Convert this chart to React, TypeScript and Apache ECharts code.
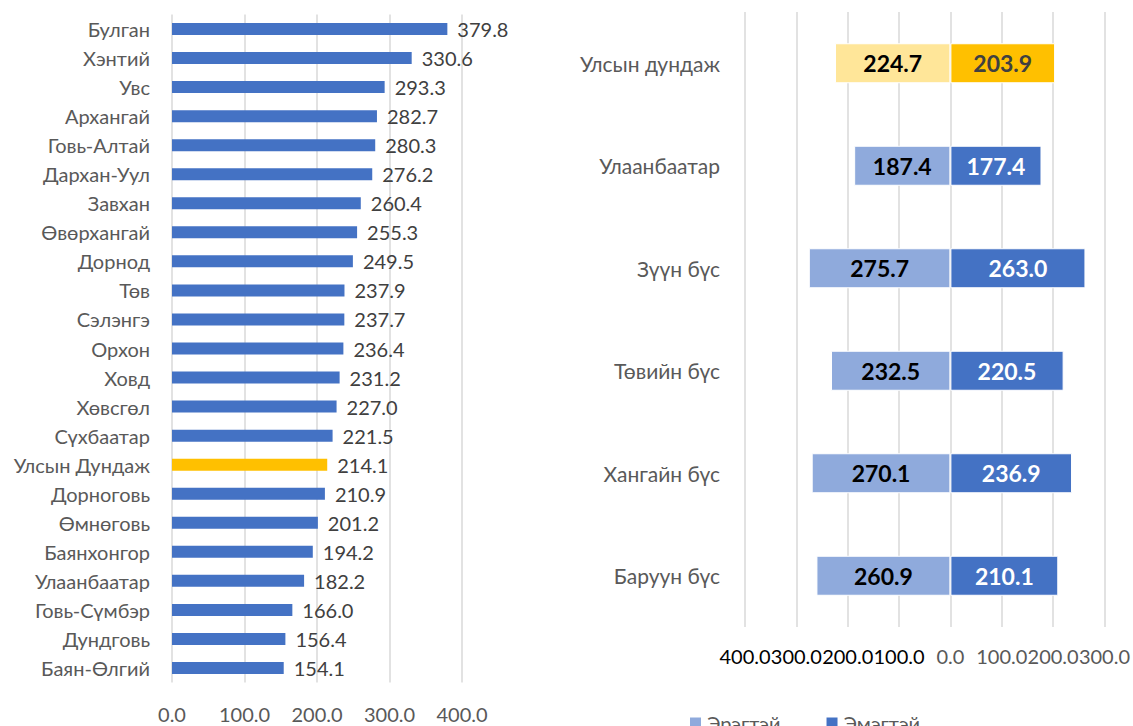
import React, { useEffect, useRef } from "react";
import * as echarts from "echarts";

const provinces = [
  "Булган", "Хэнтий", "Увс", "Архангай", "Говь-Алтай", "Дархан-Уул", "Завхан",
  "Өвөрхангай", "Дорнод", "Төв", "Сэлэнгэ", "Орхон", "Ховд", "Хөвсгөл", "Сүхбаатар",
  "Улсын Дундаж", "Дорноговь", "Өмнөговь", "Баянхонгор", "Улаанбаатар",
  "Говь-Сүмбэр", "Дундговь", "Баян-Өлгий",
];
const provinceValues = [
  379.8, 330.6, 293.3, 282.7, 280.3, 276.2, 260.4, 255.3, 249.5, 237.9, 237.7,
  236.4, 231.2, 227.0, 221.5, 214.1, 210.9, 201.2, 194.2, 182.2, 166.0, 156.4, 154.1,
];
const averageName = "Улсын Дундаж";

const regions = ["Улсын дундаж", "Улаанбаатар", "Зүүн бүс", "Төвийн бүс", "Хангайн бүс", "Баруун бүс"];
const maleValues = [224.7, 187.4, 275.7, 232.5, 270.1, 260.9];
const femaleValues = [203.9, 177.4, 263.0, 220.5, 236.9, 210.1];
const seriesNames = ["Эрэгтэй", "Эмэгтэй"];

const FONT = "Lato";
const BLUE = "#4472C4";
const LIGHT_BLUE = "#8FAADC";
const GOLD = "#FFC000";
const LIGHT_GOLD = "#FFE699";

export default function App() {
  const ref = useRef<HTMLDivElement>(null);
  useEffect(() => {
    if (!ref.current) return;
    const chart = echarts.init(ref.current, undefined, { renderer: "svg" });
    const option: any = {
      animation: false,
      backgroundColor: "#ffffff",
      textStyle: { fontFamily: FONT },
      legend: {
        left: 683,
        top: 708,
        itemWidth: 13,
        itemHeight: 13,
        itemGap: 44,
        icon: "rect",
        textStyle: { fontFamily: FONT, fontSize: 20, color: "#595959" },
        data: [
          { name: seriesNames[0], itemStyle: { color: LIGHT_BLUE } },
          { name: seriesNames[1], itemStyle: { color: BLUE } },
        ],
      },
      grid: [
        { left: 172, top: 14.5, width: 290, height: 668 },
        { left: 745, top: 12, width: 362, height: 615 },
      ],
      xAxis: [
        {
          gridIndex: 0,
          type: "value",
          min: 0,
          max: 400,
          interval: 100,
          axisLine: { show: false },
          axisTick: { show: false },
          splitLine: { lineStyle: { color: "#d9d9d9", width: 1.5 } },
          axisLabel: {
            margin: 21,
            fontFamily: FONT,
            fontSize: 20,
            color: "#595959",
            formatter: (v: number) => v.toFixed(1),
          },
        },
        {
          gridIndex: 1,
          type: "value",
          min: -400,
          max: 300,
          interval: 100,
          axisLine: { show: false },
          axisTick: { show: false },
          splitLine: { lineStyle: { color: "#d9d9d9", width: 1.5 } },
          axisLabel: {
            margin: 19,
            fontFamily: FONT,
            fontSize: 20,
            color: (v: any) => (Number(v) < 0 ? "#000000" : "#595959"),
            formatter: (v: number) => Math.abs(v).toFixed(1),
          },
        },
      ],
      yAxis: [
        {
          gridIndex: 0,
          type: "category",
          inverse: true,
          data: provinces,
          axisLine: { show: false },
          axisTick: { show: false },
          axisLabel: { margin: 22, fontFamily: FONT, fontSize: 20, color: "#595959" },
        },
        {
          gridIndex: 1,
          type: "category",
          inverse: true,
          data: regions,
          axisLine: { show: false },
          axisTick: { show: false },
          axisLabel: { margin: 25, fontFamily: FONT, fontSize: 21, color: "#595959" },
        },
      ],
      series: [
        {
          type: "bar",
          xAxisIndex: 0,
          yAxisIndex: 0,
          barWidth: 12,
          data: provinceValues.map((v, i) => ({
            value: v,
            itemStyle: { color: provinces[i] === averageName ? GOLD : BLUE },
          })),
          label: {
            show: true,
            position: "right",
            distance: 10,
            fontFamily: FONT,
            fontSize: 20,
            color: "#404040",
            formatter: (p: any) => Number(p.value).toFixed(1),
          },
        },
        {
          name: seriesNames[0],
          type: "bar",
          xAxisIndex: 1,
          yAxisIndex: 1,
          stack: "g",
          barWidth: 40,
          itemStyle: { color: LIGHT_BLUE, borderColor: "#ffffff", borderWidth: 1 },
          data: maleValues.map((v, i) => ({
            value: -v,
            itemStyle: { color: i === 0 ? LIGHT_GOLD : LIGHT_BLUE },
          })),
          label: {
            show: true,
            position: "inside",
            fontFamily: FONT,
            fontSize: 23,
            fontWeight: "bold",
            color: "#000000",
            formatter: (p: any) => Math.abs(Number(p.value)).toFixed(1),
          },
        },
        {
          name: seriesNames[1],
          type: "bar",
          xAxisIndex: 1,
          yAxisIndex: 1,
          stack: "g",
          barWidth: 40,
          itemStyle: { color: BLUE, borderColor: "#ffffff", borderWidth: 1 },
          data: femaleValues.map((v, i) => ({
            value: v,
            itemStyle: { color: i === 0 ? GOLD : BLUE },
            label: { color: i === 0 ? "#404040" : "#ffffff" },
          })),
          label: {
            show: true,
            position: "inside",
            fontFamily: FONT,
            fontSize: 23,
            fontWeight: "bold",
            color: "#ffffff",
            formatter: (p: any) => Number(p.value).toFixed(1),
          },
        },
      ],
    };
    chart.setOption(option);
    return () => chart.dispose();
  }, []);
  return (
    <div
      ref={ref}
      style={{ position: "fixed", left: 0, top: 0, width: 1133, height: 726 }}
    />
  );
}
